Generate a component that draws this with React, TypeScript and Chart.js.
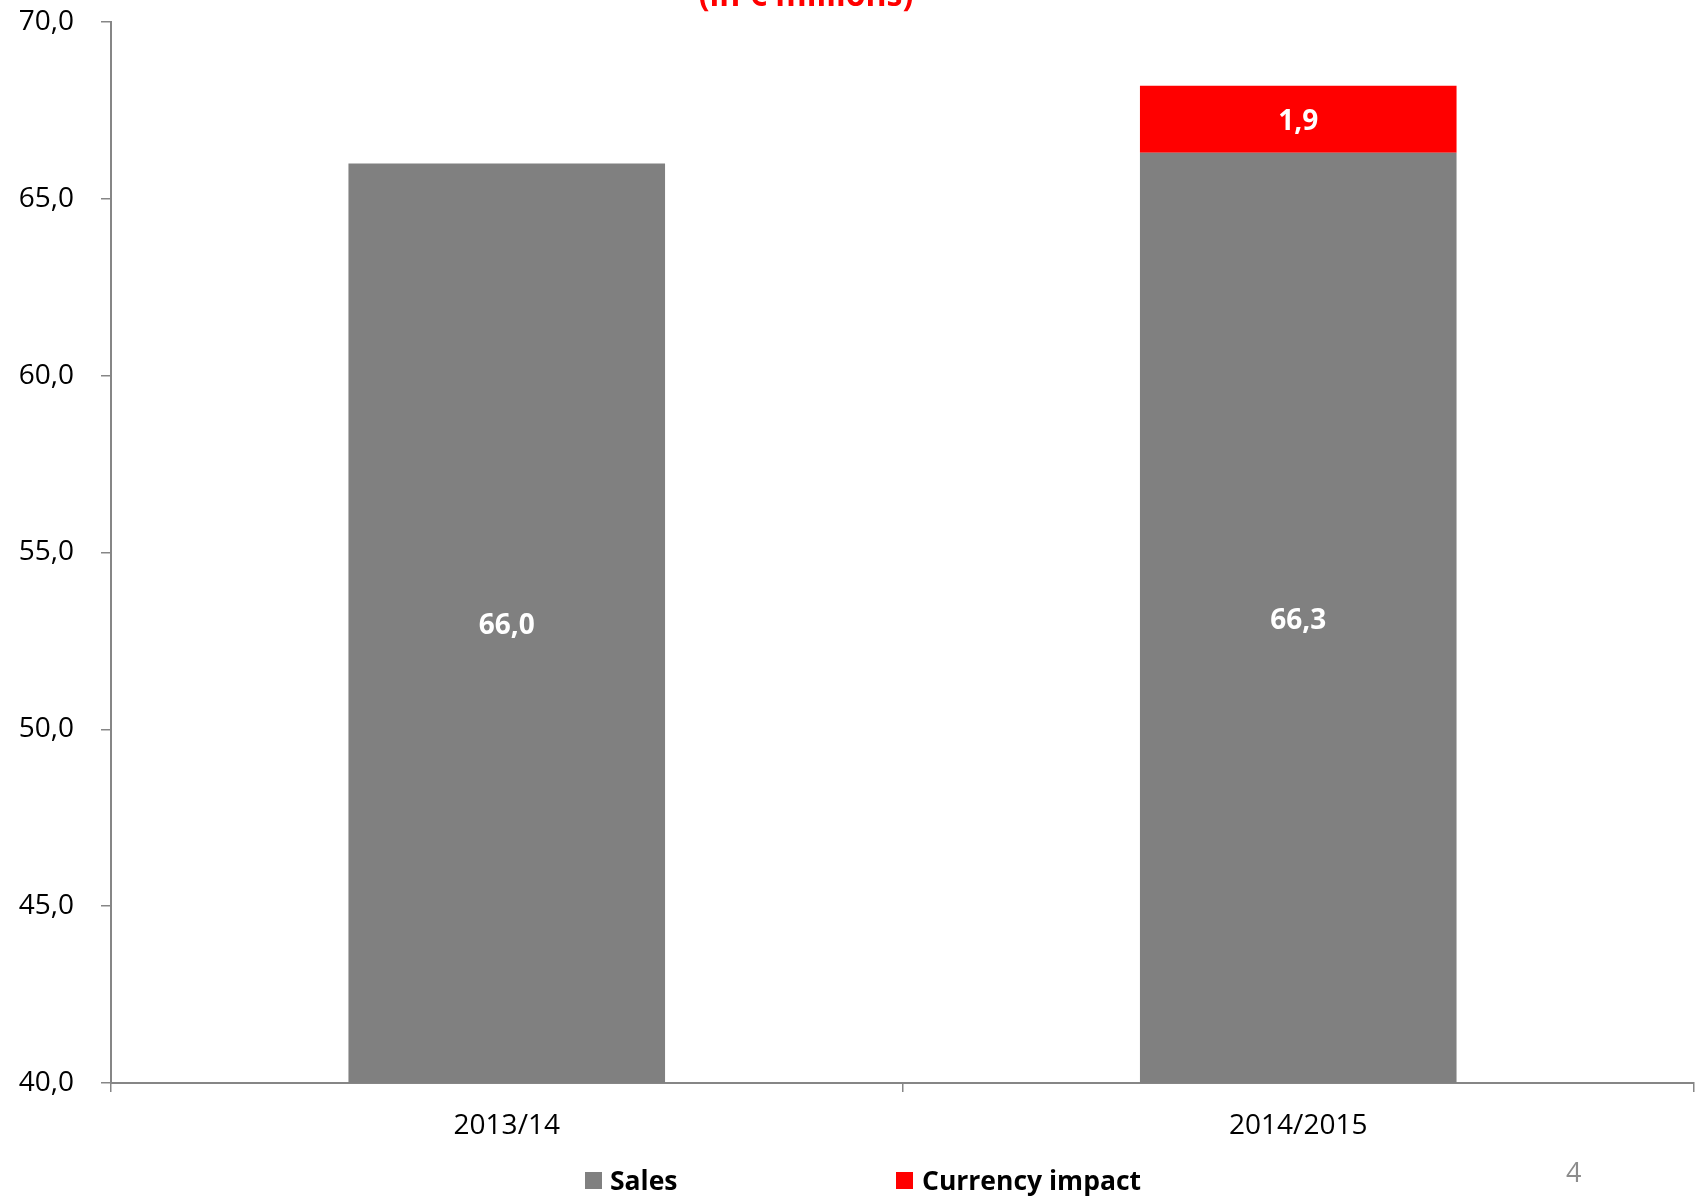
import React, { useEffect, useRef } from "react";
import { Chart, registerables } from "chart.js";

Chart.register(...registerables);

const categories: string[] = ["2013/14", "2014/2015"];
const salesValues: (number | null)[] = [66.0, 66.3];
const currencyValues: (number | null)[] = [null, 1.9];
const seriesLabels: string[] = ["Sales", "Currency impact"];
const yMin = 40;
const yMax = 70;
const yStep = 5;
const titleText = "(in € millions)";
const pageNumber = "4";

const FONT = "'Open Sans', 'Liberation Sans', sans-serif";
const fmt = (v: number) => v.toFixed(1).replace(".", ",");

const labelsPlugin = {
  id: "barLabels",
  afterDatasetsDraw(chart: any) {
    const ctx = chart.ctx;
    const area = chart.chartArea;
    ctx.save();
    ctx.fillStyle = "#ffffff";
    ctx.font = `bold 28px ${FONT}`;
    ctx.textAlign = "center";
    ctx.textBaseline = "middle";
    chart.data.datasets.forEach((ds: any, di: number) => {
      const meta = chart.getDatasetMeta(di);
      meta.data.forEach((bar: any, i: number) => {
        const v = ds.data[i];
        if (v === null || v === undefined) return;
        const top = Math.max(bar.y, area.top);
        const base = Math.min(bar.base, area.bottom);
        ctx.fillText(fmt(v), bar.x, (top + base) / 2 + 3);
      });
    });
    ctx.restore();
  },
  afterDraw(chart: any) {
    const ctx = chart.ctx;
    ctx.save();
    // clipped title
    ctx.fillStyle = "#ff0000";
    ctx.font = `bold 32px ${FONT}`;
    ctx.textAlign = "center";
    ctx.textBaseline = "alphabetic";
    ctx.fillText(titleText, 806, 6);
    // legend
    const items = [
      { x: 585, tx: 610 },
      { x: 896, tx: 922 },
    ];
    ctx.font = `bold 26.5px ${FONT}`;
    ctx.textAlign = "left";
    chart.data.datasets.forEach((ds: any, i: number) => {
      const it = items[i];
      ctx.fillStyle = ds.backgroundColor;
      ctx.fillRect(it.x, 1172, 17, 17);
      ctx.fillStyle = "#000000";
      ctx.fillText(ds.label, it.tx, 1190);
    });
    // page number
    ctx.fillStyle = "#8c8c8c";
    ctx.font = `27px ${FONT}`;
    ctx.fillText(pageNumber, 1566, 1182);
    ctx.restore();
  },
};

export default function App() {
  const ref = useRef<HTMLCanvasElement | null>(null);
  useEffect(() => {
    if (!ref.current) return;
    const chart = new Chart(ref.current, {
      type: "bar",
      data: {
        labels: categories,
        datasets: [
          {
            label: seriesLabels[0],
            data: salesValues,
            backgroundColor: "#808080",
            barPercentage: 0.4,
            categoryPercentage: 1.0,
          },
          {
            label: seriesLabels[1],
            data: currencyValues,
            backgroundColor: "#ff0000",
            barPercentage: 0.4,
            categoryPercentage: 1.0,
          },
        ],
      },
      options: {
        animation: false,
        responsive: false,
        devicePixelRatio: 1,
        layout: { padding: { top: 22, right: 5, bottom: 0, left: 0 } },
        plugins: {
          legend: { display: false },
          title: { display: false },
          tooltip: { enabled: false },
        },
        scales: {
          x: {
            stacked: true,
            grid: {
              offset: true,
              drawOnChartArea: false,
              drawTicks: true,
              tickLength: 9,
              color: "#868686",
              lineWidth: 1.5,
            },
            border: { color: "#868686", width: 2 },
            ticks: {
              color: "#000000",
              font: { family: FONT, size: 28 },
              padding: 17,
              maxRotation: 0,
            },
            afterFit(scale: any) {
              scale.height = 116;
              scale.paddingLeft = 0;
              scale.paddingRight = 0;
            },
          },
          y: {
            stacked: true,
            min: yMin,
            max: yMax,
            grid: {
              drawOnChartArea: false,
              drawTicks: true,
              tickLength: 10,
              color: "#868686",
              lineWidth: 1.5,
            },
            border: { color: "#868686", width: 2 },
            ticks: {
              stepSize: yStep,
              color: "#000000",
              font: { family: FONT, size: 28 },
              padding: 27,
              callback: (v: any) => fmt(Number(v)),
            },
            afterFit(scale: any) {
              scale.width = 111;
              scale.paddingTop = 0;
              scale.paddingBottom = 0;
            },
          },
        },
      },
      plugins: [labelsPlugin],
    });
    return () => chart.destroy();
  }, []);
  return (
    <div style={{ position: "absolute", left: 0, top: 0, width: 1699, height: 1199, background: "#fff" }}>
      <canvas ref={ref} width={1699} height={1199} style={{ display: "block", width: 1699, height: 1199 }} />
    </div>
  );
}
